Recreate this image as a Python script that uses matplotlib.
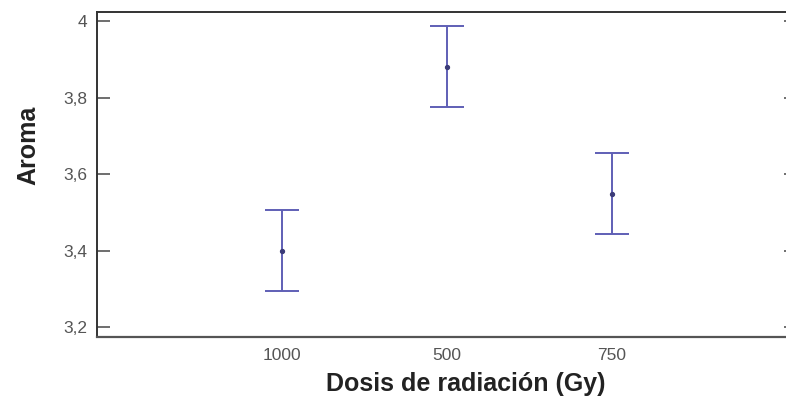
"""Means with LSD intervals of aroma score by radiation dose."""
import matplotlib
matplotlib.use("Agg")
import matplotlib.pyplot as plt

plt.rcParams["font.family"] = ["Liberation Sans", "DejaVu Sans"]

doses = ["1000", "500", "750"]
means = [3.40, 3.881, 3.549]
half_width = [0.107, 0.107, 0.106]
yticks = [3.2, 3.4, 3.6, 3.8, 4.0]
ylabels = ["3,2", "3,4", "3,6", "3,8", "4"]

BAR = "#5f5fb6"
DOT = "#3b3b78"
AXIS = "#333333"
TICK = "#555555"

W, H = 786, 405
fig = plt.figure(figsize=(W / 100, H / 100), dpi=100)
ax = fig.add_axes([97 / W, (H - 337) / H, 700 / W, 325 / H])

x = list(range(len(doses)))
ax.errorbar(x, means, yerr=half_width, fmt="none", ecolor=BAR,
            elinewidth=1.4, capsize=12, capthick=1.4, zorder=3)
ax.plot(x, means, "o", ms=2.8, color=DOT, zorder=4)

ax.set_xlim(-1.121, 3.121)
ax.set_ylim(3.174, 4.0235)
ax.set_xticks(x)
ax.set_xticklabels(doses)
ax.set_yticks(yticks)
ax.set_yticklabels(ylabels)

ax.tick_params(axis="x", length=0, pad=8, labelsize=12.5, labelcolor="#555555")
ax.tick_params(axis="y", direction="in", length=9.5, width=1.2, color=TICK,
               right=True, pad=7, labelsize=12.5, labelcolor="#555555")
for sp in ("top", "left"):
    ax.spines[sp].set_color(AXIS)
    ax.spines[sp].set_linewidth(1.4)
ax.spines["bottom"].set_color("#555555")
ax.spines["bottom"].set_linewidth(1.6)
ax.spines["right"].set_color(AXIS)

fig.text(466 / W, 1 - 384 / H, "Dosis de radiación (Gy)", ha="center",
         va="center", fontsize=18, fontweight="bold", color="#222222")
fig.text(28 / W, 1 - 145 / H, "Aroma", ha="center", va="center",
         rotation=90, fontsize=18, fontweight="bold", color="#222222")

fig.savefig("out.png", dpi=100, facecolor="white")
